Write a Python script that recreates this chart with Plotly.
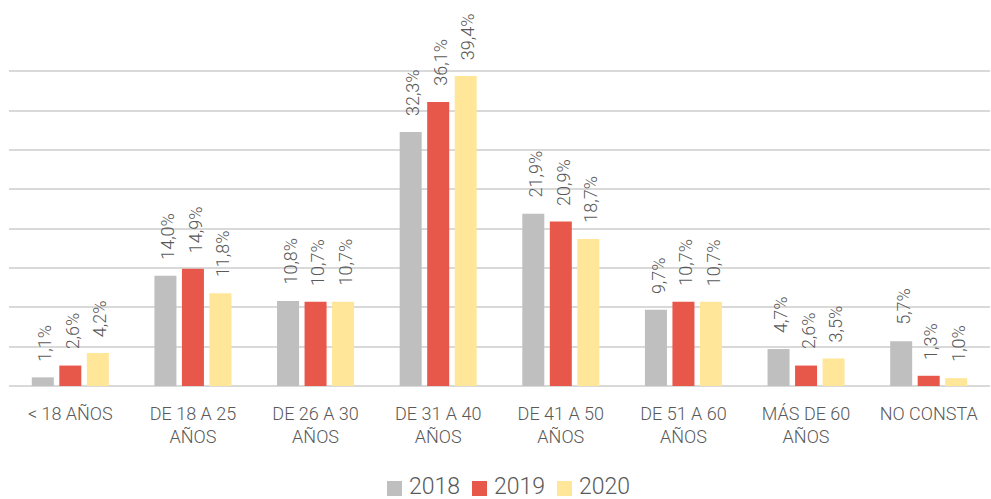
import plotly.graph_objects as go

categories = [
    "< 18 AÑOS",
    "DE 18 A 25<br>AÑOS",
    "DE 26 A 30<br>AÑOS",
    "DE 31 A 40<br>AÑOS",
    "DE 41 A 50<br>AÑOS",
    "DE 51 A 60<br>AÑOS",
    "MÁS DE 60<br>AÑOS",
    "NO CONSTA",
]
years = ["2018", "2019", "2020"]
values_2018 = [1.1, 14.0, 10.8, 32.3, 21.9, 9.7, 4.7, 5.7]
values_2019 = [2.6, 14.9, 10.7, 36.1, 20.9, 10.7, 2.6, 1.3]
values_2020 = [4.2, 11.8, 10.7, 39.4, 18.7, 10.7, 3.5, 1.0]
colors = ["#BFBFBF", "#E8584A", "#FFE699"]

TEXT = "#595959"
FONT = "Roboto"
W, H = 991, 499
ML, MR, MT, MB = 9, 1, 32, 113
PW, PH = W - ML - MR, H - MT - MB
BARGAP, GROUPGAP = 0.327, 0.2

fig = go.Figure()
series = [values_2018, values_2019, values_2020]
for name, vals, col in zip(years, series, colors):
    fig.add_trace(go.Bar(
        x=categories,
        y=vals,
        name=name,
        marker=dict(color=col, line=dict(width=0)),
        showlegend=False,
    ))


def px_x(px):
    return (px - ML) / PW


def px_y(py):
    return (H - MB - py) / PH


def fmt(v):
    return f"{v:.1f}".replace(".", ",") + "%"


# rotated value labels above each bar, spaced a little off the bar top
slot = PW / len(categories) * (1 - BARGAP) / len(years)
annotations = []
for i, vals in enumerate(series):
    for cat, v in zip(categories, vals):
        annotations.append(dict(
            x=cat, y=v, xref="x", yref="y",
            text=fmt(v), textangle=-90,
            xanchor="center", yanchor="bottom",
            xshift=(i - 1) * slot + 2, yshift=14,
            showarrow=False,
            font=dict(family=FONT, size=18, color=TEXT, weight=300),
        ))

# legend drawn as squares + labels below the plot
shapes = []
for i, (name, col) in enumerate(zip(years, colors)):
    left = 387 + 85 * i
    shapes.append(dict(
        type="rect", xref="paper", yref="paper",
        x0=px_x(left), x1=px_x(left + 15),
        y0=px_y(496), y1=px_y(481),
        fillcolor=col, line=dict(width=0),
    ))
    annotations.append(dict(
        text=name, xref="paper", yref="paper",
        x=px_x(left + 20), xanchor="left",
        y=px_y(486), yanchor="middle",
        showarrow=False,
        font=dict(family=FONT, size=23, color=TEXT, weight=300),
    ))

fig.update_layout(
    width=W,
    height=H,
    margin=dict(l=ML, r=MR, t=MT, b=MB),
    paper_bgcolor="white",
    plot_bgcolor="white",
    barmode="group",
    bargap=BARGAP,
    bargroupgap=GROUPGAP,
    font=dict(family=FONT, color=TEXT, weight=300),
    showlegend=False,
    shapes=shapes,
    annotations=annotations,
    xaxis=dict(
        showgrid=False,
        showline=False,
        ticks="outside",
        ticklen=11,
        tickcolor="rgba(0,0,0,0)",
        tickfont=dict(family=FONT, size=18, color=TEXT, weight=300),
    ),
    yaxis=dict(
        range=[0, 45],
        dtick=5,
        showticklabels=False,
        showgrid=True,
        gridcolor="#D9D9D9",
        gridwidth=1.5,
        zeroline=True,
        zerolinecolor="#D9D9D9",
        zerolinewidth=1.5,
        showline=False,
    ),
)

fig.write_html("out.html")
